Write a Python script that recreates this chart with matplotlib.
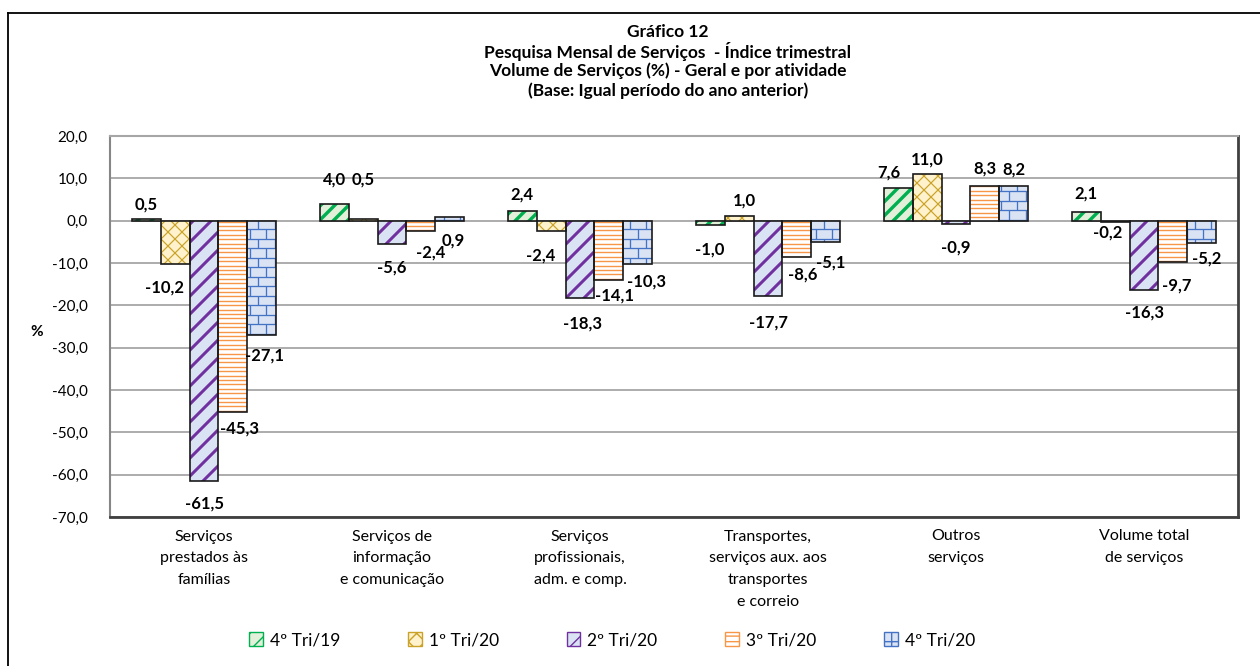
import matplotlib
matplotlib.use("Agg")
import matplotlib.pyplot as plt
import numpy as np
from matplotlib.collections import LineCollection
from matplotlib.transforms import IdentityTransform
from matplotlib.patches import Patch
from matplotlib.lines import Line2D

# ---------------- data ----------------
categories = [
    "Serviços\nprestados às\nfamílias",
    "Serviços de\ninformação\ne comunicação",
    "Serviços\nprofissionais,\nadm. e comp.",
    "Transportes,\nserviços aux. aos\ntransportes\ne correio",
    "Outros\nserviços",
    "Volume total\nde serviços",
]
series_names = ["4º Tri/19", "1º Tri/20", "2º Tri/20", "3º Tri/20", "4º Tri/20"]
tri4_19 = [0.5, 4.0, 2.4, -1.0, 7.6, 2.1]
tri1_20 = [-10.2, 0.5, -2.4, 1.0, 11.0, -0.2]
tri2_20 = [-61.5, -5.6, -18.3, -17.7, -0.9, -16.3]
tri3_20 = [-45.3, -2.4, -14.1, -8.6, 8.3, -9.7]
tri4_20 = [-27.1, 0.9, -10.3, -5.1, 8.2, -5.2]
series_values = [tri4_19, tri1_20, tri2_20, tri3_20, tri4_20]
yticks = [20, 10, 0, -10, -20, -30, -40, -50, -60, -70]

title_lines = ["Gráfico 12",
               "Pesquisa Mensal de Serviços  - Índice trimestral",
               "Volume de Serviços (%) - Geral e por atividade",
               "(Base: Igual período do ano anterior)"]

# ---------------- style ----------------
plt.rcParams['font.family'] = ['Lato', 'DejaVu Sans']
W, H = 1260, 666
fig = plt.figure(figsize=(W / 100, H / 100), dpi=100)
ax = fig.add_axes([110 / W, 1 - 517 / H, (1238 - 110) / W, (517 - 136) / H])

styles = [
    dict(face="#e2f0d9", hc="#00b050", kind="diag", sp=14, lw=3.4, lh='//'),
    dict(face="#fff2cc", hc="#c9a227", kind="cross", sp=14, lw=1.2, lh='xx'),
    dict(face="#dae3f3", hc="#7030a0", kind="diag", sp=18, lw=3.0, lh='//'),
    dict(face="#ffffff", hc="#f79646", kind="horiz", sp=4.4, lw=1.4, lh='---'),
    dict(face="#dae3f3", hc="#4472c4", kind="brick", sp=9.5, lw=1.3, lh='+'),
]

label_offsets = [
    [(0, 14), (0, 24), (0, 16), (0, -25), (-9, 16), (0, 18)],
    [(-11, -24), (0, 39), (-10, -25), (5, 16), (0, 15), (-7, -11)],
    [(0, -22), (0, -23), (2, -25), (0, -27), (0, -23), (1, -23)],
    [(7, -16), (10, -22), (6, -15), (6, -17), (0, 17), (4, -24)],
    [(3, -20), (3, -24), (9, -17), (5, -20), (0, 16), (5, -16)],
]

ax.set_xlim(-0.5, len(categories) - 0.5)
ax.set_ylim(-70, 20)

bw = 0.154
x = np.arange(len(categories))


def hatch_segments(kind, xmin, xmax, ymin, ymax, sp):
    segs = []
    if kind == "diag" or kind == "cross":
        cs = np.arange(np.floor((ymin - xmax) / sp) * sp, ymax - xmin + sp, sp)
        for c in cs:
            segs.append([(xmin - 2, xmin - 2 + c), (xmax + 2, xmax + 2 + c)])
        if kind == "cross":
            cs = np.arange(np.floor((ymin + xmin) / sp) * sp, ymax + xmax + sp, sp)
            for c in cs:
                segs.append([(xmin - 2, c - xmin + 2), (xmax + 2, c - xmax - 2)])
    elif kind == "horiz":
        ys = np.arange(np.floor(ymin / sp) * sp, ymax + sp, sp)
        for yy in ys:
            segs.append([(xmin, yy), (xmax, yy)])
    elif kind == "brick":
        bwid = sp * 1.7
        ys = np.arange(np.floor(ymin / sp) * sp, ymax + sp, sp)
        for k, yy in enumerate(ys):
            segs.append([(xmin, yy), (xmax, yy)])
            off = (k % 2) * bwid / 2
            xs = np.arange(np.floor((xmin - off) / bwid) * bwid + off, xmax + bwid, bwid)
            for xx in xs:
                segs.append([(xx, yy), (xx, yy + sp)])
    return segs


for j, (vals, st) in enumerate(zip(series_values, styles)):
    pos = x + (j - 2) * bw
    bars = ax.bar(pos, vals, width=bw, color=st["face"], edgecolor="none",
                  linewidth=0, zorder=3)
    for b, v in zip(bars, vals):
        p0 = ax.transData.transform((b.get_x(), b.get_y()))
        p1 = ax.transData.transform((b.get_x() + b.get_width(), b.get_y() + b.get_height()))
        xmin, xmax = sorted([p0[0], p1[0]])
        ymin, ymax = sorted([p0[1], p1[1]])
        segs = hatch_segments(st["kind"], xmin, xmax, ymin, ymax, st["sp"])
        lc = LineCollection(segs, colors=st["hc"], linewidths=st["lw"] * 0.72,
                            transform=IdentityTransform(), zorder=4)
        ax.add_collection(lc, autolim=False)
        lc.set_clip_path(b)
    ax.bar(pos, vals, width=bw, fill=False, edgecolor="#1a1a1a", linewidth=1.2, zorder=5)
    for i, (px, v) in enumerate(zip(pos, vals)):
        dx, dy = label_offsets[j][i]
        ax.annotate(f"{v:.1f}".replace(".", ","), xy=(px, v), xytext=(dx, dy),
                    textcoords="offset pixels", ha="center", va="center",
                    fontsize=12, fontweight="bold", color="black", zorder=6)

ax.set_xlim(-0.5, len(categories) - 0.5)
ax.set_ylim(-70, 20)
ax.set_yticks(yticks)
ax.set_yticklabels([f"{t:.1f}".replace(".", ",") for t in yticks], fontsize=11)
ax.set_xticks(x)
ax.set_xticklabels(categories, fontsize=11.5, linespacing=1.72)
ax.tick_params(axis="x", length=0, pad=9)
ax.tick_params(axis="y", length=0, pad=16)
ax.grid(axis="y", color="#a6a6a6", linewidth=1.3, zorder=0)
ax.set_axisbelow(True)
for side, col, lw in [("left", "#868686", 1.5), ("top", "#a6a6a6", 1.5),
                      ("right", "#404040", 2.0), ("bottom", "#404040", 2.0)]:
    ax.spines[side].set_color(col)
    ax.spines[side].set_linewidth(lw)

fig.text(37 / W, 1 - 332 / H, "%", ha="center", va="center", fontsize=11, fontweight="bold")

for k, line in enumerate(title_lines):
    fig.text(668 / W, 1 - (32 + k * 19.5) / H, line, ha="center", va="center",
             fontsize=12.5, fontweight="bold")

# outer frame (left and top edges visible)
fig.add_artist(Line2D([8 / W, 8 / W], [0, 1 - 13 / H], transform=fig.transFigure,
                      color="black", linewidth=1.3))
fig.add_artist(Line2D([8 / W, 1], [1 - 13 / H, 1 - 13 / H], transform=fig.transFigure,
                      color="black", linewidth=1.3))

handles = [Patch(facecolor=st["face"], edgecolor=st["hc"], hatch=st["lh"], linewidth=1)
           for st in styles]
fig.legend(handles, series_names, loc="center", bbox_to_anchor=(612 / W, 1 - 640 / H),
           ncol=5, frameon=False, fontsize=12.5, handlelength=0.8, handleheight=0.8,
           columnspacing=3.9, handletextpad=0.4)

fig.savefig("out.png", dpi=100)
